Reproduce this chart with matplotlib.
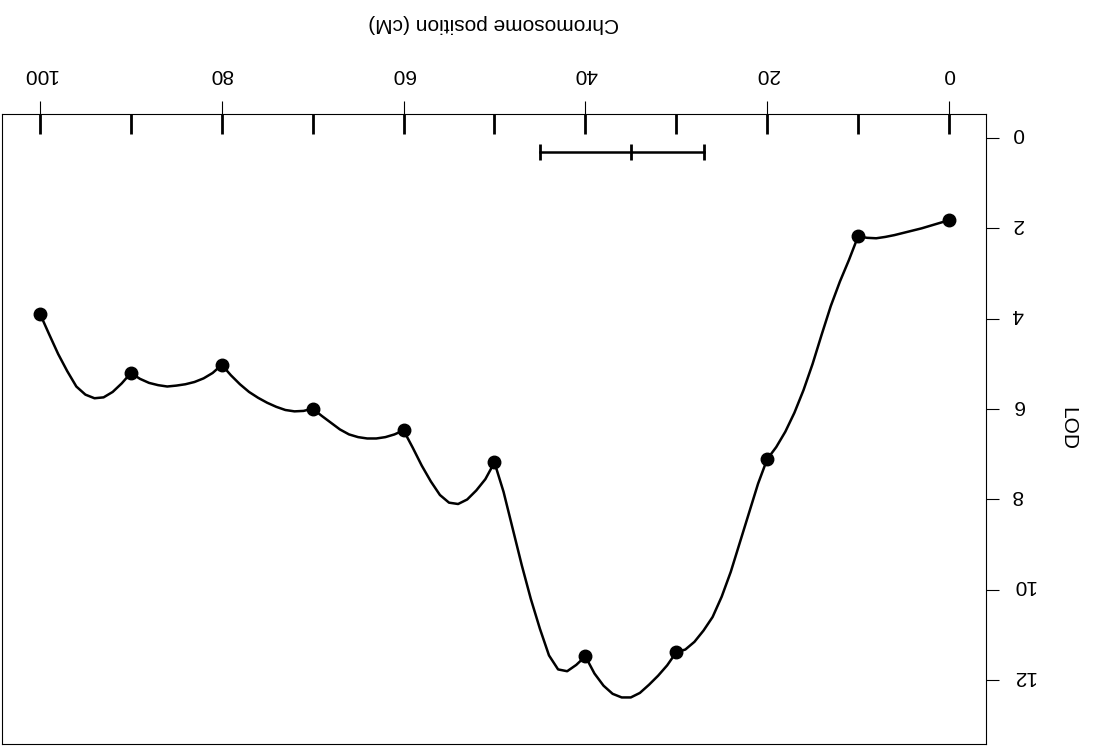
import numpy as np
import matplotlib
matplotlib.use("Agg")
import matplotlib.pyplot as plt
import matplotlib.transforms as mtransforms

plt.rcParams['font.family'] = ['Liberation Sans', 'DejaVu Sans']

# marker positions (cM) and their LOD scores
marker_pos = [0, 10, 20, 30, 40, 50, 60, 70, 80, 90, 100]
marker_lod = [1.82, 2.18, 7.11, 11.38, 11.47, 7.18, 6.47, 5.99, 5.02, 5.20, 3.89]

# interval mapping LOD profile along the chromosome, 1 cM steps
scan_pos = list(range(0, 101))
scan_lod = [1.82, 1.88, 1.94, 2.00, 2.05, 2.10, 2.15, 2.19, 2.22, 2.21,
            2.18, 2.70, 3.18, 3.72, 4.35, 5.00, 5.58, 6.08, 6.50, 6.84,
            7.11, 7.65, 8.30, 8.95, 9.60, 10.15, 10.60, 10.90, 11.15, 11.32,
            11.38, 11.67, 11.90, 12.10, 12.28, 12.38, 12.38, 12.30, 12.12, 11.85,
            11.47, 11.66, 11.80, 11.76, 11.45, 10.86, 10.20, 9.45, 8.64, 7.83,
            7.18, 7.55, 7.80, 8.00, 8.10, 8.07, 7.90, 7.60, 7.25, 6.85,
            6.47, 6.56, 6.62, 6.65, 6.65, 6.62, 6.56, 6.45, 6.30, 6.15,
            5.99, 6.04, 6.05, 6.02, 5.95, 5.86, 5.75, 5.62, 5.45, 5.25,
            5.02, 5.20, 5.32, 5.40, 5.45, 5.48, 5.50, 5.47, 5.42, 5.33,
            5.20, 5.43, 5.62, 5.74, 5.76, 5.68, 5.50, 5.16, 4.78, 4.34,
            3.89]

# support interval around the peak
ci_low, ci_peak, ci_high = 27.0, 35.0, 45.0
ci_y = 0.32

x_ticks = [0, 20, 40, 60, 80, 100]
y_ticks = [0, 2, 4, 6, 8, 10, 12]

fig = plt.figure(figsize=(10.95, 7.46), dpi=100)
ax = fig.add_axes([0.0018, 0.0027, 0.8986, 0.8445])

ax.plot(scan_pos, scan_lod, color='black', lw=1.8, solid_joinstyle='round')
ax.plot(marker_pos, marker_lod, 'o', color='black', ms=9)

# marker rug along the axis
ax.vlines(marker_pos, 0.968, 1.0, transform=ax.get_xaxis_transform(),
          color='black', lw=2)

# support interval bar
ax.plot([ci_low, ci_high], [ci_y, ci_y], color='black', lw=1.8)
ax.plot([ci_low, ci_peak, ci_high], [ci_y] * 3, '|', color='black',
        ms=11, mew=2)

ax.set_xlim(104.18, -4.07)
ax.set_ylim(13.41, -0.53)

ax.xaxis.tick_top()
ax.xaxis.set_label_position('top')
ax.yaxis.tick_right()
ax.yaxis.set_label_position('right')
ax.set_xticks(x_ticks)
ax.set_yticks(y_ticks)
ax.tick_params(axis='both', direction='out', length=9.7, width=0.8,
               labelsize=15, labelrotation=180, color='black')
ax.tick_params(axis='x', pad=12)
ax.tick_params(axis='y', pad=9)

# upside-down labels sit a little low, nudge them up
nudge = mtransforms.ScaledTranslation(0, 4 / 100, fig.dpi_scale_trans)
for t in ax.yaxis.get_major_ticks():
    t.label2.set_va('center')
    t.label2.set_transform(t.label2.get_transform() + nudge)

for s in ax.spines.values():
    s.set_linewidth(0.8)
    s.set_color('black')

ax.set_xlabel('Chromosome position (cM)', fontsize=15, rotation=180, labelpad=26)
ax.set_ylabel('LOD', fontsize=15, rotation=270, labelpad=30)

fig.savefig('out.png', dpi=100)
